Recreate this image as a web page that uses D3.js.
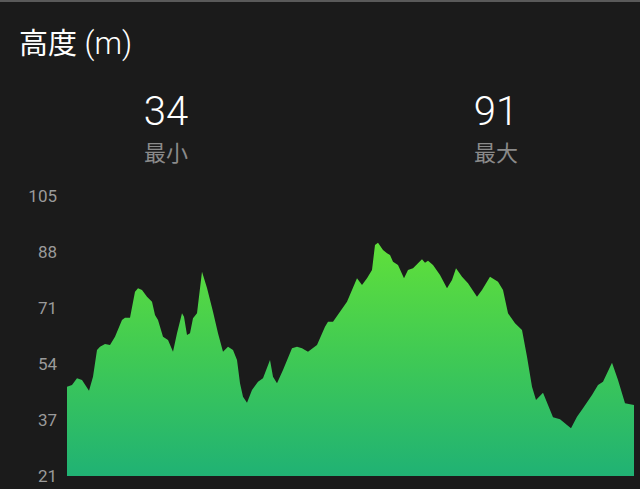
<!DOCTYPE html>
<html><head><meta charset="utf-8">
<script src="https://cdn.jsdelivr.net/npm/d3@7"></script>
<style>html,body{margin:0;padding:0;background:#1b1b1b;overflow:hidden}</style>
</head><body>
<svg id="c" width="640" height="489"></svg>
<script>
// distance along the route (arbitrary km units)
const distanceKm = [0.00,0.05,0.10,0.15,0.22,0.26,0.30,0.33,0.38,0.43,0.48,0.55,0.58,0.63,0.68,0.71,0.75,0.80,0.85,0.88,0.91,0.96,1.01,1.06,1.10,1.15,1.17,1.20,1.23,1.26,1.30,1.35,1.40,1.46,1.51,1.56,1.61,1.66,1.70,1.73,1.76,1.80,1.85,1.91,1.96,2.03,2.06,2.10,2.16,2.25,2.30,2.35,2.41,2.50,2.58,2.61,2.66,2.73,2.80,2.90,2.95,3.00,3.05,3.08,3.11,3.16,3.20,3.23,3.26,3.31,3.37,3.41,3.46,3.51,3.55,3.58,3.61,3.66,3.73,3.80,3.85,3.89,3.95,4.01,4.10,4.15,4.23,4.31,4.36,4.41,4.48,4.55,4.60,4.65,4.69,4.76,4.81,4.86,4.93,5.00,5.04,5.10,5.16,5.25,5.31,5.36,5.45,5.51,5.58,5.63,5.67];
const elevationM = [47.8,48.3,50.3,49.8,46.6,50.8,58.8,59.8,60.6,60.3,62.8,67.8,68.5,68.5,76.3,77.3,76.8,74.8,73.3,69.3,67.8,62.8,61.8,58.3,63.8,69.8,68.8,63.3,63.8,68.3,69.8,82.3,77.4,70.3,63.8,58.3,59.8,58.8,55.8,48.8,44.8,43.0,46.8,49.3,50.3,55.8,50.8,48.8,52.8,59.3,59.8,59.3,58.3,60.3,65.8,67.3,67.3,70.3,73.3,80.3,78.3,80.3,82.8,90.3,91.0,88.8,87.8,87.3,85.3,84.3,80.3,82.8,83.3,84.8,86.0,85.0,85.6,84.3,81.3,77.3,79.8,83.3,80.8,78.8,74.8,76.8,80.8,79.3,76.8,69.8,66.8,64.8,56.8,47.8,43.8,46.0,42.3,38.6,38.0,36.3,35.3,38.8,41.3,45.3,48.3,49.3,55.0,49.8,42.8,42.5,42.3];
const yTickValues = [21, 37.8, 54.6, 71.4, 88.2, 105];
const yTickLabels = ["21", "37", "54", "71", "88", "105"];
const statValues = ["34", "91"];
const statLabels = ["最小", "最大"];
const titleMain = "高度";
const titleUnit = " (m)";

const data = distanceKm.map((d, i) => ({d, v: elevationM[i]}));
const svg = d3.select("#c");
const W = 640, H = 489;

svg.append("rect").attr("width", W).attr("height", H).attr("fill", "#1b1b1b");
svg.append("rect").attr("width", W).attr("height", 2).attr("fill", "#5a5a5a");

const x = d3.scaleLinear().domain([0, d3.max(distanceKm)]).range([67, 634]);
const y = d3.scaleLinear().domain([21, 105]).range([476, 196]);

const defs = svg.append("defs");
const grad = defs.append("linearGradient").attr("id", "g")
  .attr("gradientUnits", "userSpaceOnUse")
  .attr("x1", 0).attr("x2", 0).attr("y1", y(91)).attr("y2", y(21));
grad.append("stop").attr("offset", "0%").attr("stop-color", "#60e03a");
grad.append("stop").attr("offset", "50%").attr("stop-color", "#3fc955");
grad.append("stop").attr("offset", "100%").attr("stop-color", "#20b274");

const area = d3.area().x(d => x(d.d)).y0(y(21)).y1(d => y(d.v)).curve(d3.curveLinear);
svg.append("path").datum(data).attr("d", area).attr("fill", "url(#g)");

const ax = svg.append("g").attr("transform", `translate(${x(0)},0)`)
  .call(d3.axisLeft(y).tickValues(yTickValues).tickFormat((d, i) => yTickLabels[i]).tickSize(0).tickPadding(10));
ax.select(".domain").remove();
ax.selectAll("text").attr("fill", "#9a9a9a").style("font-family", "Roboto").style("font-size", "17px");

// title
const t = svg.append("text").attr("x", 19).attr("y", 54).attr("fill", "#ffffff").style("font-size", "29px");
t.append("tspan").style("font-family", "'Noto Sans CJK JP'").text(titleMain);
t.append("tspan").style("font-family", "Roboto").style("font-weight", 300).style("font-size", "31px").text(titleUnit);

// stats
const statX = [166, 496];
statValues.forEach((s, i) => {
  svg.append("text").attr("x", statX[i]).attr("y", 125).attr("text-anchor", "middle")
    .attr("fill", "#ffffff").style("font-family", "Roboto").style("font-weight", 300).style("font-size", "40px").text(s);
  svg.append("text").attr("x", statX[i]).attr("y", 161).attr("text-anchor", "middle")
    .attr("fill", "#8a8a8a").style("font-family", "'Noto Sans CJK JP'").style("font-size", "22px").text(statLabels[i]);
});
</script>
</body></html>
